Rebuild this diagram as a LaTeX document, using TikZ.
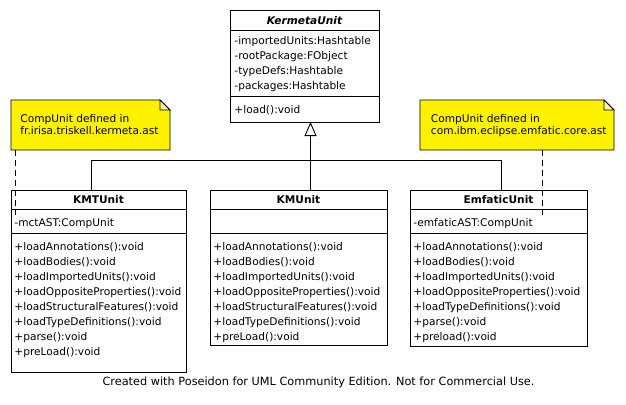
\documentclass[tikz,border=0pt]{standalone}
\usepackage{fontspec}
\setmainfont{DejaVu Sans}
\usetikzlibrary{arrows.meta}
\begin{document}
\begin{tikzpicture}[x=1pt,y=-1pt,line width=0.9pt,
  cls/.style={draw,anchor=north west,inner sep=0pt,fill=white},
  txt/.style={anchor=base west,inner sep=0pt,font=\fontsize{10.6}{12}\selectfont},
  hdr/.style={anchor=base,inner sep=0pt,font=\fontsize{10.6}{12}\selectfont\bfseries},
  notebox/.style={draw,fill=yellow},
  inh/.style={-{Triangle[open,length=14pt,width=12pt]}},
  notelink/.style={dash pattern=on 6pt off 4pt}]
\useasboundingbox[fill=white] (0,0) rectangle (626,404);

% ---- KermetaUnit
\node[cls,minimum width=149pt,minimum height=112pt] (kerm) at (230,10) {};
\draw (230,30) -- (379,30);
\draw (230,96) -- (379,96);
\node[hdr,font=\fontsize{10.6}{12}\selectfont\bfseries\itshape] (kermT) at (304.5,24.5) {KermetaUnit};
\node[txt] (ka1) at (234,44.5) {-importedUnits:Hashtable};
\node[txt] (ka2) at (234,59.5) {-rootPackage:FObject};
\node[txt] (ka3) at (234,74.5) {-typeDefs:Hashtable};
\node[txt] (ka4) at (234,89.5) {-packages:Hashtable};
\node[txt] (ko1) at (234,113.5) {+load():void};

% ---- KMTUnit
\node[cls,minimum width=175pt,minimum height=182pt] (kmt) at (11,190) {};
\draw (11,209) -- (186,209);
\draw (11,233) -- (186,233);
\node[hdr] (kmtT) at (98.5,203.5) {KMTUnit};
\node[txt] (kmta) at (14,226) {-mctAST:CompUnit};
\foreach \t [count=\i from 0] in {+loadAnnotations():void,+loadBodies():void,+loadImportedUnits():void,+loadOppositeProperties():void,+loadStructuralFeatures():void,+loadTypeDefinitions():void,+parse():void,+preLoad():void}
  \node[txt] (kmto\i) at (14,250.5+15*\i) {\t};

% ---- KMUnit
\node[cls,minimum width=177pt,minimum height=155pt] (km) at (210,190) {};
\draw (210,209) -- (387,209);
\draw (210,233) -- (387,233);
\node[hdr] (kmT) at (298.5,203.5) {KMUnit};
\foreach \t [count=\i from 0] in {+loadAnnotations():void,+loadBodies():void,+loadImportedUnits():void,+loadOppositeProperties():void,+loadStructuralFeatures():void,+loadTypeDefinitions():void,+preLoad():void}
  \node[txt] (kmo\i) at (213,250.5+15*\i) {\t};

% ---- EmfaticUnit
\node[cls,minimum width=177pt,minimum height=156pt] (emf) at (410,190) {};
\draw (410,209) -- (587,209);
\draw (410,233) -- (587,233);
\node[hdr] (emfT) at (498.5,203.5) {EmfaticUnit};
\node[txt] (emfa) at (413,226) {-emfaticAST:CompUnit};
\foreach \t [count=\i from 0] in {+loadAnnotations():void,+loadBodies():void,+loadImportedUnits():void,+loadOppositeProperties():void,+loadTypeDefinitions():void,+parse():void,+preload():void}
  \node[txt] (emfo\i) at (413,250.5+15*\i) {\t};

% ---- notes
\draw[notebox] (11,100) -- (160,100) -- (170,110) -- (170,150) -- (11,150) -- cycle;
\draw[fill=yellow!40] (160,100) -- (160,110) -- (170,110) -- cycle;
\node[txt] (n1a) at (20,122) {CompUnit defined in};
\node[txt] (n1b) at (20,134.3) {fr.irisa.triskell.kermeta.ast};

\draw[notebox] (420,100) -- (604,100) -- (614,110) -- (614,150) -- (420,150) -- cycle;
\draw[fill=yellow!40] (604,100) -- (604,110) -- (614,110) -- cycle;
\node[txt] (n2a) at (430.5,122) {CompUnit defined in};
\node[txt] (n2b) at (430.5,134.3) {com.ibm.eclipse.emfatic.core.ast};

% ---- connectors
\coordinate (kermB) at (310.5,122);
\coordinate (bus) at (310.5,160);
\coordinate (kmtA) at (91,190);
\coordinate (kmA) at (310.5,190);
\coordinate (emfA) at (501,190);
\draw (kmtA) |- (bus);
\draw (emfA) |- (bus);
\draw[inh] (kmA) -- (kermB);

\coordinate (n1B) at (15.5,150);
\coordinate (kmtD) at (15.5,215);
\coordinate (n2B) at (542,150);
\coordinate (emfD) at (542,215);
\draw[notelink] (n1B) -- (kmtD);
\draw[notelink] (n2B) -- (emfD);

% ---- footer
\node[anchor=base,inner sep=0pt,font=\fontsize{11.3}{12}\selectfont] (credit) at (318.5,385) {Created with Poseidon for UML Community Edition. Not for Commercial Use.};
\end{tikzpicture}
\end{document}
